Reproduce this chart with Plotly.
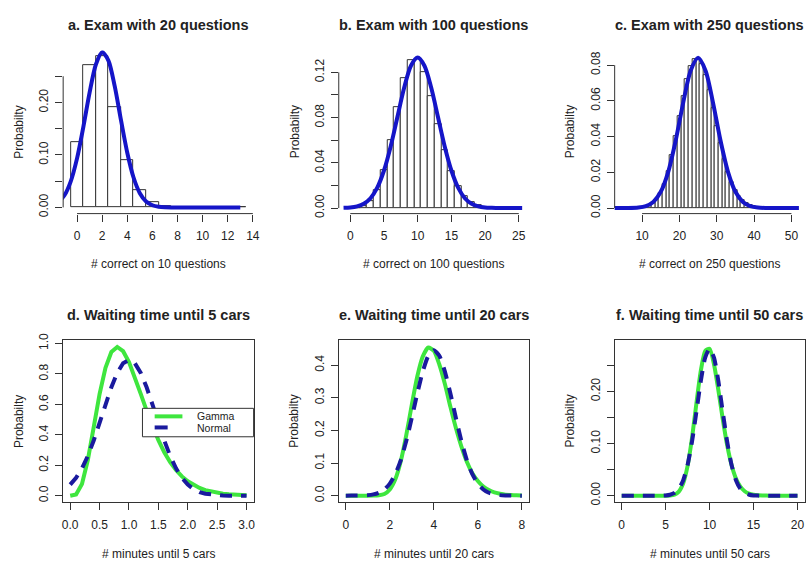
import plotly.graph_objects as go

# ---------------- data ----------------
# a. exam with 20 questions (histogram + normal curve)
a_counts = [0, 1, 2, 3, 4, 5, 6, 7, 8, 9, 10, 11, 12, 13]
a_prob = [0.124, 0.271, 0.289, 0.191, 0.091, 0.032, 0.010, 0.002, 0, 0, 0, 0, 0, 0]
a_curve_x = [-1.5, -1, -0.5, 0, 0.5, 1, 1.5, 2, 2.5, 3, 3.5, 4, 4.5, 5, 5.5, 6, 6.5, 7,
             7.5, 8, 9, 10, 11, 12, 13]
a_curve_y = [0.0093, 0.0231, 0.0497, 0.0934, 0.1531, 0.2188, 0.2724, 0.2960, 0.2800,
             0.2311, 0.1663, 0.1043, 0.0570, 0.0272, 0.0113, 0.0041, 0.0013, 0.0003,
             0, 0, 0, 0, 0, 0, 0]

# b. exam with 100 questions
b_counts = [0, 1, 2, 3, 4, 5, 6, 7, 8, 9, 10, 11, 12, 13, 14, 15, 16, 17, 18, 19, 20,
            21, 22, 23, 24, 25]
b_prob = [0.0000, 0.0003, 0.0016, 0.0059, 0.0159, 0.0339, 0.0596, 0.0889, 0.1148, 0.1304,
          0.1319, 0.1199, 0.0988, 0.0743, 0.0513, 0.0327, 0.0193, 0.0106, 0.0054, 0.0026,
          0.0012, 0.0005, 0.0002, 0.0001, 0, 0]
b_curve_x = [-1, 0, 1, 2, 3, 4, 5, 6, 7, 8, 9, 10, 11, 12, 13, 14, 15, 16, 17, 18, 19,
             20, 21, 22, 23, 24, 25, 25.5]
b_curve_y = [0.0002, 0.0005, 0.0015, 0.0038, 0.0087, 0.0180, 0.0332, 0.0547, 0.0807,
             0.1065, 0.1258, 0.1330, 0.1258, 0.1065, 0.0807, 0.0547, 0.0332, 0.0180,
             0.0087, 0.0038, 0.0015, 0.0005, 0.0002, 0, 0, 0, 0, 0]

# c. exam with 250 questions
c_counts = [8, 9, 10, 11, 12, 13, 14, 15, 16, 17, 18, 19, 20, 21, 22, 23, 24, 25, 26, 27,
            28, 29, 30, 31, 32, 33, 34, 35, 36, 37, 38, 39, 40, 41, 42, 43, 44, 45]
c_prob = [0.00003, 0.00009, 0.00023, 0.00056, 0.00123, 0.00250, 0.00470, 0.00821,
          0.01340, 0.02050, 0.02948, 0.04000, 0.05133, 0.06247, 0.07225, 0.07958,
          0.08363, 0.08400, 0.08077, 0.07445, 0.06588, 0.05604, 0.04587, 0.03617,
          0.02750, 0.02019, 0.01432, 0.00982, 0.00651, 0.00419, 0.00261, 0.00158,
          0.00092, 0.00053, 0.00029, 0.00016, 0.00008, 0.00004]
c_curve_x = [0, 3, 6, 9, 11, 13, 15, 17, 19, 21, 23, 25, 27, 29, 31, 33, 35, 37, 39, 41,
             44, 48, 52]
c_curve_y = [0, 0, 0.00003, 0.0003, 0.0011, 0.0034, 0.0091, 0.0203, 0.0378, 0.0589,
             0.0769, 0.0841, 0.0769, 0.0589, 0.0378, 0.0203, 0.0091, 0.0034, 0.0011,
             0.0003, 0, 0, 0]

# d. waiting time until 5 cars
d_x = [0.0, 0.1, 0.2, 0.3, 0.4, 0.5, 0.6, 0.7, 0.8, 0.9, 1.0, 1.1, 1.2, 1.3, 1.4, 1.5,
       1.6, 1.7, 1.8, 1.9, 2.0, 2.1, 2.2, 2.3, 2.4, 2.5, 2.6, 2.7, 2.8, 2.9, 3.0]
d_gamma = [0, 0.008, 0.077, 0.235, 0.451, 0.668, 0.840, 0.944, 0.977, 0.949, 0.877,
           0.779, 0.669, 0.559, 0.456, 0.365, 0.286, 0.221, 0.169, 0.127, 0.095, 0.070,
           0.051, 0.037, 0.027, 0.019, 0.013, 0.0095, 0.0067, 0.0046, 0.0032]
d_normal = [0.073, 0.118, 0.180, 0.262, 0.363, 0.478, 0.598, 0.712, 0.807, 0.870, 0.892,
            0.870, 0.807, 0.712, 0.598, 0.478, 0.363, 0.262, 0.180, 0.118, 0.073, 0.043,
            0.024, 0.013, 0.007, 0.003, 0.0015, 0.0006, 0.0002, 0.0001, 0]

# e. waiting time until 20 cars
e_x = [0, 0.25, 0.5, 0.75, 1, 1.25, 1.5, 1.75, 2, 2.25, 2.5, 2.75, 3, 3.25, 3.5, 3.75, 4,
       4.25, 4.5, 4.75, 5, 5.25, 5.5, 5.75, 6, 6.25, 6.5, 6.75, 7, 7.25, 7.5, 7.75, 8]
e_gamma = [0, 0, 0, 0, 0, 0.0001, 0.001, 0.005, 0.019, 0.050, 0.106, 0.186, 0.279, 0.366,
           0.427, 0.454, 0.444, 0.402, 0.343, 0.273, 0.208, 0.151, 0.104, 0.069, 0.045,
           0.028, 0.017, 0.010, 0.006, 0.003, 0.002, 0.001, 0.0005]
e_normal = [0, 0.0001, 0.0002, 0.0006, 0.0016, 0.004, 0.009, 0.019, 0.037, 0.066, 0.109,
            0.168, 0.239, 0.314, 0.381, 0.429, 0.446, 0.429, 0.381, 0.314, 0.239, 0.168,
            0.109, 0.066, 0.037, 0.019, 0.009, 0.004, 0.0016, 0.0006, 0.0002, 0.0001, 0]

# f. waiting time until 50 cars
f_x = [0, 0.5, 1, 1.5, 2, 2.5, 3, 3.5, 4, 4.5, 5, 5.5, 6, 6.5, 7, 7.5, 8, 8.5, 9, 9.5, 10,
       10.5, 11, 11.5, 12, 12.5, 13, 13.5, 14, 14.5, 15, 15.5, 16, 16.5, 17, 17.5, 18,
       18.5, 19, 19.5, 20]
f_gamma = [0, 0, 0, 0, 0, 0, 0, 0, 0, 0, 0.0000, 0.0003, 0.0018, 0.0076, 0.0237, 0.0570,
           0.1107, 0.1771, 0.2393, 0.2778, 0.2817, 0.2523, 0.2025, 0.1468, 0.0969, 0.0588,
           0.0330, 0.0172, 0.0084, 0.0038, 0.0017, 0.0007, 0.0003, 0.0001, 0, 0, 0, 0, 0,
           0, 0]
f_normal = [0, 0, 0, 0, 0, 0, 0, 0, 0, 0.0001, 0.0005, 0.0018, 0.0052, 0.0132, 0.0297,
            0.0591, 0.1038, 0.1607, 0.2197, 0.2650, 0.2821, 0.2650, 0.2197, 0.1607, 0.1038,
            0.0591, 0.0297, 0.0132, 0.0052, 0.0018, 0.0005, 0.0001, 0, 0, 0, 0, 0, 0, 0,
            0, 0]

# tick positions / labels
a_xticks = [0, 2, 4, 6, 8, 10, 12, 14]
a_xlabels = ["0", "2", "4", "6", "8", "10", "12", "14"]
a_yticks = [0.00, 0.05, 0.10, 0.15, 0.20, 0.25]
a_ylabels = ["0.00", "", "0.10", "", "0.20", ""]
b_xticks = [0, 5, 10, 15, 20, 25]
b_xlabels = ["0", "5", "10", "15", "20", "25"]
b_yticks = [0.00, 0.02, 0.04, 0.06, 0.08, 0.10, 0.12]
b_ylabels = ["0.00", "", "0.04", "", "0.08", "", "0.12"]
c_xticks = [10, 20, 30, 40, 50]
c_xlabels = ["10", "20", "30", "40", "50"]
c_yticks = [0.00, 0.02, 0.04, 0.06, 0.08]
c_ylabels = ["0.00", "0.02", "0.04", "0.06", "0.08"]
d_xticks = [0.0, 0.5, 1.0, 1.5, 2.0, 2.5, 3.0]
d_xlabels = ["0.0", "0.5", "1.0", "1.5", "2.0", "2.5", "3.0"]
d_yticks = [0.0, 0.2, 0.4, 0.6, 0.8, 1.0]
d_ylabels = ["0.0", "0.2", "0.4", "0.6", "0.8", "1.0"]
e_xticks = [0, 2, 4, 6, 8]
e_xlabels = ["0", "2", "4", "6", "8"]
e_yticks = [0.0, 0.1, 0.2, 0.3, 0.4]
e_ylabels = ["0.0", "0.1", "0.2", "0.3", "0.4"]
f_xticks = [0, 5, 10, 15, 20]
f_xlabels = ["0", "5", "10", "15", "20"]
f_yticks = [0.00, 0.05, 0.10, 0.15, 0.20, 0.25]
f_ylabels = ["0.00", "", "0.10", "", "0.20", ""]

titles = ["a. Exam with 20 questions", "b. Exam with 100 questions",
          "c. Exam with 250 questions", "d. Waiting time until 5 cars",
          "e. Waiting time until 20 cars", "f. Waiting time until 50 cars"]
xtitles = ["# correct on 10 questions", "# correct on 100 questions",
           "# correct on 250 questions", "# minutes until 5 cars",
           "# minutes until 20 cars", "# minutes until 50 cars"]
ytitle = "Probabilty"
legend_names = ["Gamma", "Normal"]

# ---------------- styling / layout ----------------
W, H = 811, 565
FONT = "Liberation Sans, Arial, Helvetica, sans-serif"
TXT = "#222222"
AX = "#333333"
BLUE = "#1515c8"
GREEN = "#3ee63e"
NAVY = "#1a1a9e"


def fx(p):
    return p / W


def fy(p):
    return 1 - p / H


COLS = [(62.7, 254.8), (340.7, 532.5), (619.0, 810.5)]
ROWS = [(44.0, 210.7), (340.0, 505.0)]

panels = [
    dict(xr=[-1.105, 14.06], yr=[-0.0118, 0.2998], xt=a_xticks, xl=a_xlabels, yt=a_yticks, yl=a_ylabels),
    dict(xr=[-1.71, 26.5], yr=[-0.0049, 0.1396], xt=b_xticks, xl=b_xlabels, yt=b_yticks, yl=b_ylabels),
    dict(xr=[2.65, 53.5], yr=[-0.0031, 0.0884], xt=c_xticks, xl=c_xlabels, yt=c_yticks, yl=c_ylabels),
    dict(xr=[-0.12, 3.12], yr=[-0.042, 1.02], xt=d_xticks, xl=d_xlabels, yt=d_yticks, yl=d_ylabels),
    dict(xr=[-0.32, 8.32], yr=[-0.020, 0.476], xt=e_xticks, xl=e_xlabels, yt=e_yticks, yl=e_ylabels),
    dict(xr=[-0.8, 20.8], yr=[-0.0125, 0.298], xt=f_xticks, xl=f_xlabels, yt=f_yticks, yl=f_ylabels),
]

fig = go.Figure()

hist_sets = [(a_counts, a_prob, a_curve_x, a_curve_y),
             (b_counts, b_prob, b_curve_x, b_curve_y),
             (c_counts, c_prob, c_curve_x, c_curve_y)]
for i, (k, p, cx, cy) in enumerate(hist_sets):
    xa = "x" if i == 0 else f"x{i + 1}"
    ya = "y" if i == 0 else f"y{i + 1}"
    fig.add_trace(go.Bar(x=k, y=p, width=1, xaxis=xa, yaxis=ya, showlegend=False,
                         marker=dict(color="white", line=dict(color=AX, width=1))))
    fig.add_trace(go.Scatter(x=cx, y=cy, mode="lines", xaxis=xa, yaxis=ya,
                             showlegend=False,
                             line=dict(color=BLUE, width=4, shape="spline", smoothing=0.8)))

dens_sets = [(d_x, d_gamma, d_normal, "linear"),
             (e_x, e_gamma, e_normal, "spline"),
             (f_x, f_gamma, f_normal, "spline")]
for j, (xx, g, n, shp) in enumerate(dens_sets):
    i = j + 3
    xa, ya = f"x{i + 1}", f"y{i + 1}"
    fig.add_trace(go.Scatter(x=xx, y=g, mode="lines", xaxis=xa, yaxis=ya,
                             name=legend_names[0], showlegend=False,
                             line=dict(color=GREEN, width=4, shape=shp, smoothing=0.6)))
    fig.add_trace(go.Scatter(x=xx, y=n, mode="lines", xaxis=xa, yaxis=ya,
                             name=legend_names[1], showlegend=False,
                             line=dict(color=NAVY, width=4, dash="12px,9px", shape=shp,
                                       smoothing=0.6)))

layout = dict(width=W, height=H, margin=dict(l=0, r=0, t=0, b=0),
              paper_bgcolor="white", plot_bgcolor="white", bargap=0,
              font=dict(family=FONT, color=TXT, size=12), showlegend=False)

annotations = []
shapes = []
for i, pnl in enumerate(panels):
    r, c = divmod(i, 3)
    x0, x1 = COLS[c]
    y0, y1 = ROWS[r]
    sfx = "" if i == 0 else str(i + 1)
    boxed = r == 1
    layout["xaxis" + sfx] = dict(
        domain=[fx(x0), fx(x1)], range=pnl["xr"], anchor="y" + sfx,
        tickvals=pnl["xt"], ticktext=pnl["xl"], ticks="outside", ticklen=7, tickwidth=1,
        tickcolor=AX, showgrid=False, zeroline=False, showline=boxed, mirror=boxed,
        linecolor=AX, linewidth=1, ticklabelstandoff=4,
        tickfont=dict(size=12, color=TXT, family=FONT))
    layout["yaxis" + sfx] = dict(
        domain=[fy(y1), fy(y0)], range=pnl["yr"], anchor="x" + sfx,
        tickvals=pnl["yt"], ticktext=pnl["yl"], tickangle=-90,
        ticks="outside", ticklen=7, tickwidth=1, tickcolor=AX,
        showgrid=False, zeroline=False, showline=boxed, mirror=boxed,
        linecolor=AX, linewidth=1, ticklabelstandoff=2,
        tickfont=dict(size=12, color=TXT, family=FONT))
    if not boxed:
        # axis lines spanning first to last tick only
        shapes.append(dict(type="line", xref="x" + sfx, yref=f"y{sfx} domain",
                           x0=pnl["xt"][0], x1=pnl["xt"][-1], y0=0, y1=0,
                           line=dict(color=AX, width=1)))
        shapes.append(dict(type="line", xref=f"x{sfx} domain", yref="y" + sfx,
                           x0=0, x1=0, y0=pnl["yt"][0], y1=pnl["yt"][-1],
                           line=dict(color=AX, width=1)))
    cxp = (x0 + x1) / 2
    # panel title
    annotations.append(dict(text=f"<b>{titles[i]}</b>", x=fx(cxp), y=fy([18.3, 314.0][r]),
                            xref="paper", yref="paper", showarrow=False,
                            xanchor="center", yanchor="middle",
                            font=dict(size=14.5, color=TXT, family=FONT)))
    # x-axis title
    annotations.append(dict(text=xtitles[i], x=fx(cxp), y=fy([262.5, 557.5][r]),
                            xref="paper", yref="paper", showarrow=False,
                            xanchor="center", yanchor="middle",
                            font=dict(size=12, color=TXT, family=FONT)))
    # y-axis title
    annotations.append(dict(text=ytitle, x=fx(x0 - 44.7), y=fy((y0 + y1) / 2),
                            xref="paper", yref="paper", showarrow=False, textangle=-90,
                            xanchor="center", yanchor="middle",
                            font=dict(size=12, color=TXT, family=FONT)))

# legend box in panel d
shapes.append(dict(type="rect", xref="paper", yref="paper",
                   x0=fx(142.7), x1=fx(254.8), y0=fy(438.3), y1=fy(409.3),
                   line=dict(color=AX, width=1), fillcolor="white", layer="above"))
shapes.append(dict(type="line", xref="paper", yref="paper",
                   x0=fx(155), x1=fx(183), y0=fy(417.5), y1=fy(417.5),
                   line=dict(color=GREEN, width=4)))
shapes.append(dict(type="line", xref="paper", yref="paper",
                   x0=fx(155), x1=fx(183), y0=fy(428.8), y1=fy(428.8),
                   line=dict(color=NAVY, width=4, dash="13px,16px")))
for lbl, yy in zip(legend_names, (417.3, 428.9)):
    annotations.append(dict(text=lbl, x=fx(196), y=fy(yy), xref="paper", yref="paper",
                            showarrow=False, xanchor="left", yanchor="middle",
                            font=dict(size=10.5, color=TXT, family=FONT)))

layout["annotations"] = annotations
layout["shapes"] = shapes
fig.update_layout(**layout)

fig.write_html("out.html")
